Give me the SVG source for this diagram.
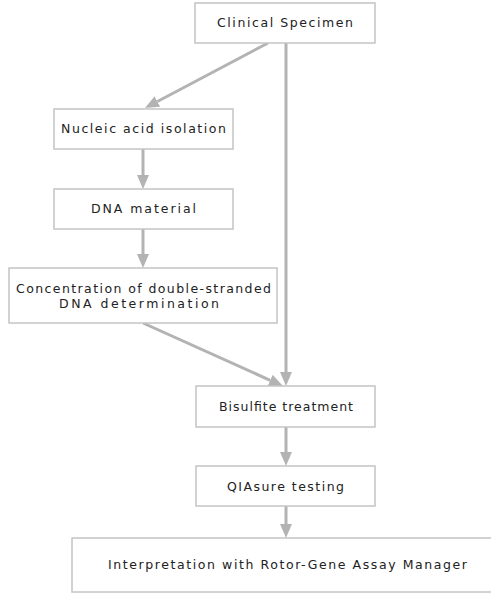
<svg xmlns="http://www.w3.org/2000/svg" width="491" height="593" viewBox="0 0 491 593">
<style>
.box{fill:#fff;stroke:#c4c4c4;stroke-width:1.5}
.t{font-family:"DejaVu Sans","Liberation Sans",Arial,sans-serif;font-size:12.5px;fill:#222;text-anchor:middle}
.c{stroke:#b3b3b3;stroke-width:3;fill:none}
</style>
<defs>
<marker id="ah" viewBox="0 0 14 12" refX="0" refY="6" markerWidth="14" markerHeight="12" markerUnits="userSpaceOnUse" orient="auto">
<path d="M0,0 L14,6 L0,12 z" fill="#b3b3b3"/>
</marker>
</defs>
<rect width="491" height="593" fill="#fff"/>
<g id="connectors">
<line class="c" x1="268" y1="43" x2="157.4" y2="101.5" marker-end="url(#ah)"/>
<line class="c" x1="143" y1="149" x2="143" y2="175" marker-end="url(#ah)"/>
<line class="c" x1="143" y1="229" x2="143" y2="254" marker-end="url(#ah)"/>
<line class="c" x1="143" y1="323" x2="270.2" y2="380.3" marker-end="url(#ah)"/>
<line class="c" x1="286" y1="43" x2="286" y2="372" marker-end="url(#ah)"/>
<line class="c" x1="286" y1="427" x2="286" y2="452" marker-end="url(#ah)"/>
<line class="c" x1="286" y1="506" x2="286" y2="524" marker-end="url(#ah)"/>
</g>
<g id="clinical">
<rect class="box" x="195" y="3" width="180" height="40"/>
<text class="t" x="285" y="27" textLength="136" lengthAdjust="spacing">Clinical Specimen</text>
</g>
<g id="nucleic">
<rect class="box" x="54" y="109" width="179" height="40"/>
<text class="t" x="143.5" y="133" textLength="165" lengthAdjust="spacing">Nucleic acid isolation</text>
</g>
<g id="dna">
<rect class="box" x="54" y="189" width="179" height="40"/>
<text class="t" x="143.5" y="213" textLength="105" lengthAdjust="spacing">DNA material</text>
</g>
<g id="concentration">
<rect class="box" x="9" y="268" width="268" height="55"/>
<text class="t" x="143.5" y="292.5" textLength="255" lengthAdjust="spacing">Concentration of double-stranded</text>
<text class="t" x="139" y="308" textLength="160" lengthAdjust="spacing">DNA determination</text>
</g>
<g id="bisulfite">
<rect class="box" x="196" y="386" width="179" height="41"/>
<text class="t" x="286" y="411" textLength="134" lengthAdjust="spacing">Bisulfite treatment</text>
</g>
<g id="qiasure">
<rect class="box" x="196" y="466" width="179" height="40"/>
<text class="t" x="285.5" y="490.5" textLength="117" lengthAdjust="spacing">QIAsure testing</text>
</g>
<g id="interpretation">
<rect class="box" x="72" y="538" width="440" height="54"/>
<text class="t" x="287.5" y="569" textLength="359" lengthAdjust="spacing">Interpretation with Rotor-Gene Assay Manager</text>
</g>
</svg>
